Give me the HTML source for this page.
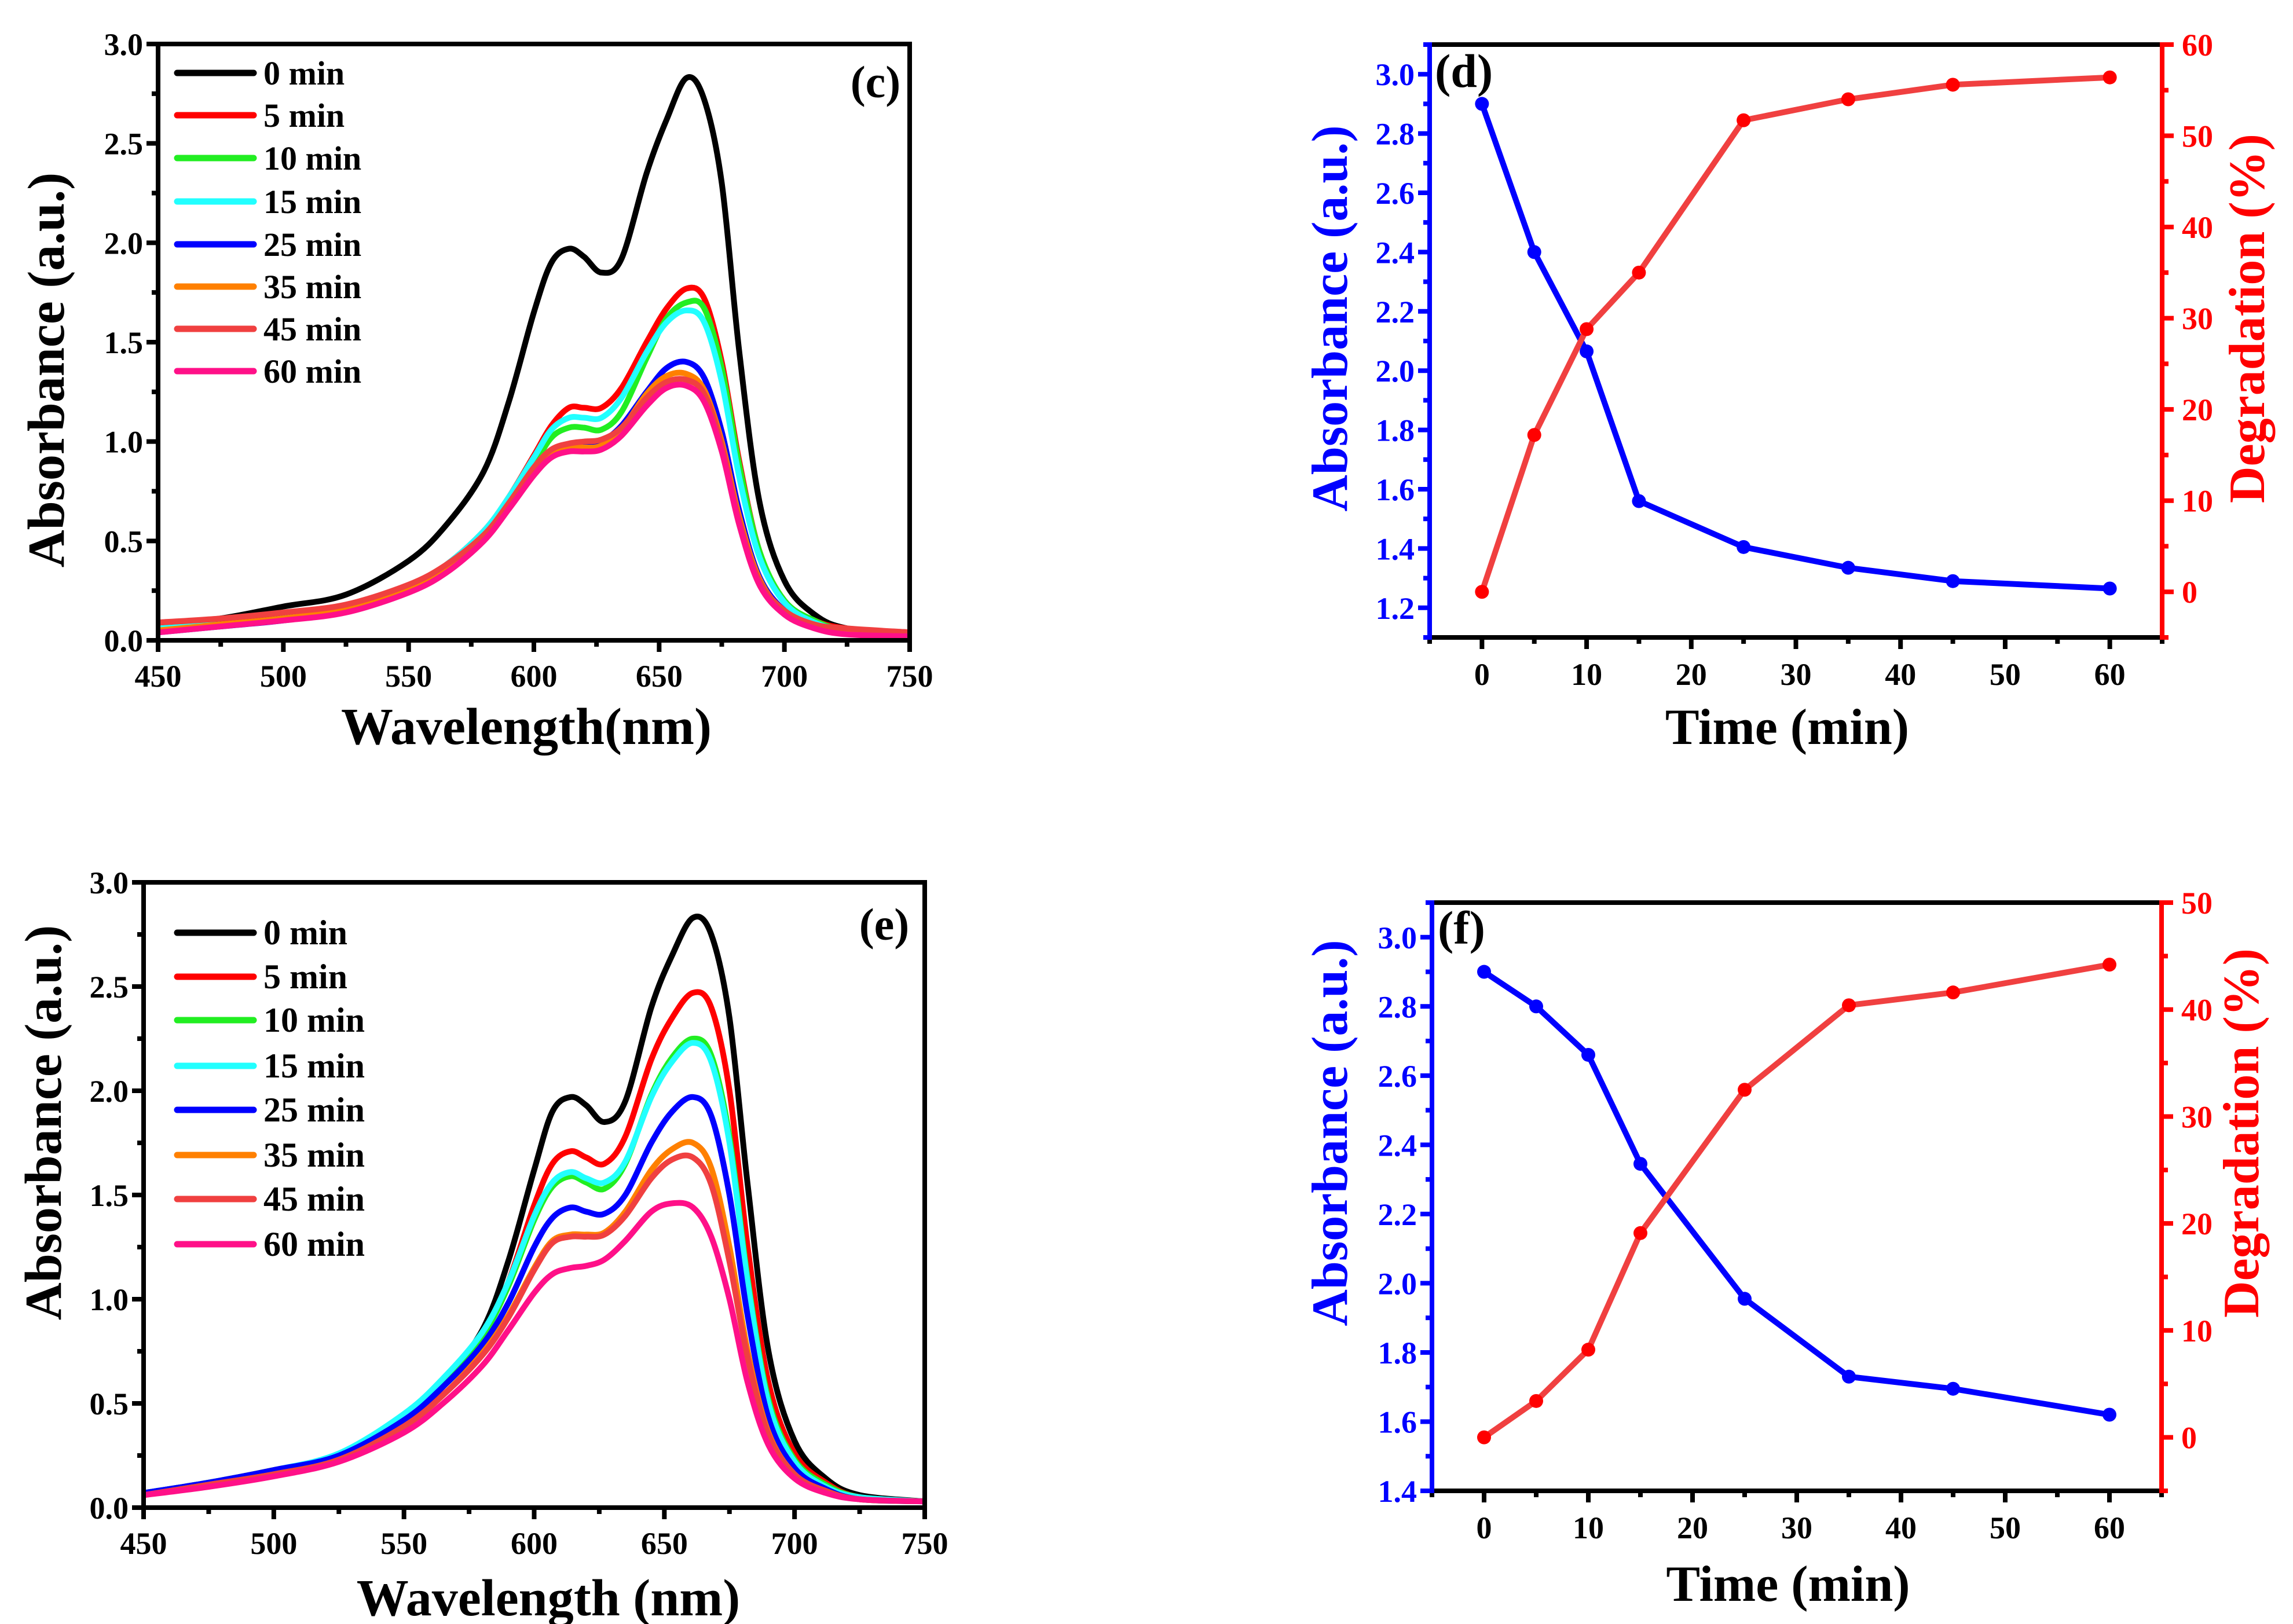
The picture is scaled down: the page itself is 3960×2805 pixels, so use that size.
<!DOCTYPE html>
<html><head><meta charset="utf-8"><style>
html,body{margin:0;padding:0;background:#fff;}
svg{display:block;font-family:"Liberation Serif","Times New Roman",serif;font-weight:bold;}
</style></head><body>
<svg id="fig" width="3960" height="2805" viewBox="0 0 3960 2805" xmlns="http://www.w3.org/2000/svg"></svg>
<script>
// ---- data ----
const wavelengths=[450,475,500,525,550,565,580,590,600,607,614,620,627,635,645,653,661,668,675,682,690,700,712,725,750];
const timeLabels=['0 min','5 min','10 min','15 min','25 min','35 min','45 min','60 min'];
const seriesColors=['#000000','#ff0000','#22ee22','#22ffff','#0000ff','#ff8000','#f04040','#ff1088'];
const c0=[.08,.11,.17,.23,.40,.58,.85,1.20,1.65,1.90,1.97,1.93,1.85,1.92,2.35,2.62,2.83,2.72,2.30,1.45,0.70,0.30,0.13,0.06,0.03];
const c5=[.07,.09,.12,.16,.27,.38,.55,.72,.93,1.08,1.17,1.17,1.17,1.27,1.50,1.67,1.77,1.72,1.40,0.90,0.45,0.20,0.10,0.06,0.04];
const c10=[.06,.08,.11,.15,.25,.36,.52,.68,.88,1.02,1.07,1.07,1.06,1.15,1.42,1.62,1.70,1.67,1.37,0.88,0.45,0.20,0.10,0.05,0.03];
const c15=[.06,.08,.11,.155,.27,.38,.55,.72,.92,1.06,1.12,1.12,1.12,1.22,1.45,1.60,1.66,1.60,1.30,0.82,0.42,0.19,0.09,0.05,0.03];
const c25=[.04,.07,.10,.15,.26,.36,.52,.68,.86,.95,.98,.99,1.00,1.08,1.25,1.37,1.40,1.32,1.05,0.65,0.32,0.15,0.07,0.04,0.02];
const c35=[.05,.08,.11,.155,.26,.36,.52,.68,.85,.94,.97,.97,.98,1.06,1.24,1.33,1.34,1.26,1.00,0.62,0.31,0.14,0.07,0.04,0.02];
const c45=[.09,.11,.14,.18,.28,.38,.53,.69,.87,.96,.99,1.00,1.01,1.07,1.22,1.30,1.31,1.24,0.98,0.60,0.30,0.15,0.08,0.06,0.04];
const c60=[.04,.07,.10,.14,.24,.34,.50,.66,.83,.92,.95,.95,.96,1.03,1.18,1.27,1.28,1.20,0.95,0.58,0.28,0.13,0.06,0.03,0.02];
const e0=[.07,.12,.18,.25,.42,.60,.85,1.18,1.62,1.90,1.97,1.93,1.85,1.95,2.40,2.65,2.83,2.75,2.35,1.55,0.75,0.32,0.14,0.06,0.03];
const e5=[.07,.12,.18,.25,.42,.58,.82,1.08,1.45,1.65,1.71,1.68,1.65,1.78,2.15,2.35,2.47,2.40,2.00,1.25,0.60,0.26,0.12,0.05,0.03];
const e10=[.07,.12,.18,.25,.43,.60,.82,1.06,1.38,1.54,1.59,1.56,1.53,1.65,1.98,2.16,2.25,2.17,1.78,1.10,0.52,0.23,0.11,0.05,0.03];
const e15=[.07,.12,.18,.26,.45,.62,.84,1.08,1.40,1.56,1.61,1.58,1.56,1.66,1.97,2.14,2.23,2.14,1.75,1.08,0.50,0.22,0.10,0.05,0.03];
const e25=[.07,.12,.18,.25,.42,.58,.78,.98,1.25,1.39,1.44,1.42,1.41,1.50,1.75,1.90,1.97,1.88,1.50,0.92,0.43,0.19,0.09,0.04,0.03];
const e35=[.06,.11,.16,.23,.39,.54,.74,.92,1.15,1.28,1.31,1.31,1.32,1.42,1.62,1.72,1.75,1.63,1.25,0.75,0.36,0.16,0.08,0.04,0.03];
const e45=[.06,.11,.16,.23,.39,.54,.73,.91,1.14,1.27,1.30,1.30,1.31,1.40,1.58,1.67,1.68,1.55,1.18,0.72,0.35,0.16,0.08,0.04,0.03];
const e60=[.06,.10,.15,.22,.36,.50,.68,.85,1.03,1.12,1.15,1.16,1.19,1.28,1.42,1.46,1.44,1.30,1.00,0.60,0.30,0.14,0.07,0.04,0.03];
const times=[0,5,10,15,25,35,45,60];
const dAbs=[2.90,2.40,2.065,1.56,1.405,1.335,1.29,1.265];
const dDeg=[0,17.2,28.8,35.0,51.7,54.0,55.6,56.4];
const fAbs=[2.90,2.80,2.66,2.345,1.955,1.73,1.695,1.62];
const fDeg=[0,3.4,8.2,19.1,32.5,40.4,41.6,44.2];
const specYTicks=['0.0','0.5','1.0','1.5','2.0','2.5','3.0'];
const specXTicks=['450','500','550','600','650','700','750'];
const timeXTicks=['0','10','20','30','40','50','60'];
const dAbsTicks=['1.2','1.4','1.6','1.8','2.0','2.2','2.4','2.6','2.8','3.0'];
const fAbsTicks=['1.4','1.6','1.8','2.0','2.2','2.4','2.6','2.8','3.0'];
const dDegTicks=['0','10','20','30','40','50','60'];
const fDegTicks=['0','10','20','30','40','50'];

const NS='http://www.w3.org/2000/svg';
const svg=document.getElementById('fig');
function mk(tag,attrs,parent){const e=document.createElementNS(NS,tag);for(const k in attrs)e.setAttribute(k,attrs[k]);(parent||svg).appendChild(e);return e;}
function txt(s,attrs,parent){const e=mk('text',attrs,parent);e.textContent=s;return e;}
function scale(d0,d1,r0,r1){return v=>r0+(v-d0)*(r1-r0)/(d1-d0);}
function smooth(pts){let d='M'+pts[0][0].toFixed(1)+','+pts[0][1].toFixed(1);
 for(let i=0;i<pts.length-1;i++){const p0=pts[Math.max(0,i-1)],p1=pts[i],p2=pts[i+1],p3=pts[Math.min(pts.length-1,i+2)];
  const c1=[p1[0]+(p2[0]-p0[0])/6,p1[1]+(p2[1]-p0[1])/6],c2=[p2[0]-(p3[0]-p1[0])/6,p2[1]-(p3[1]-p1[1])/6];
  d+='C'+c1[0].toFixed(1)+','+c1[1].toFixed(1)+' '+c2[0].toFixed(1)+','+c2[1].toFixed(1)+' '+p2[0].toFixed(1)+','+p2[1].toFixed(1);}
 return d;}

function spectrum(name,L,R,T,B,series,label,labelPos,legendRows,xTitle,xTitlePos,yTitlePos,fs){
 const g=mk('g',{});
 const x=scale(450,750,L,R),y=scale(0,3,B,T);
 for(let v=450;v<=750;v+=25){const major=(v%50===0);const ln=mk('line',{x1:x(v),x2:x(v),y1:B,y2:B+(major?20:11),stroke:'#000','stroke-width':8},g);}
 specXTicks.forEach(s=>{const t=txt(s,{x:x(+s),y:B+80,'font-size':54,'text-anchor':'middle'},g);});
 for(let i=0;i<=12;i++){const v=i*0.25;const major=i%2===0;const ln=mk('line',{x1:L-(major?20:11),x2:L,y1:y(v),y2:y(v),stroke:'#000','stroke-width':8},g);}
 specYTicks.forEach(s=>{const t=txt(s,{x:L-26,y:y(+s)+19,'font-size':54,'text-anchor':'end'},g);});
 series.forEach((arr,i)=>{const p=mk('path',{d:smooth(wavelengths.map((w,j)=>[x(w),y(arr[j])])),fill:'none',stroke:seriesColors[i],'stroke-width':10,'stroke-linejoin':'round'},g);
  });
 const fr=mk('rect',{x:L,y:T,width:R-L,height:B-T,fill:'none',stroke:'#000','stroke-width':8},g);
 const lg=mk('g',{},g);
 legendRows.forEach((ry,i)=>{const l=mk('line',{x1:306,x2:438,y1:ry,y2:ry,stroke:seriesColors[i],'stroke-width':11,'stroke-linecap':'round'},lg);
  const t=txt(timeLabels[i],{x:455,y:ry+20,'font-size':fs},lg);});
 const pl=txt(label,{x:labelPos[0],y:labelPos[1],'font-size':78,'text-anchor':'middle'},g);
 const xt=txt(xTitle,{x:xTitlePos[0],y:xTitlePos[1],'font-size':90,'text-anchor':'middle'},g);
 const yt=txt('Absorbance (a.u.)',{x:0,y:0,'font-size':90,'text-anchor':'middle',transform:'translate('+yTitlePos[0]+','+yTitlePos[1]+') rotate(-90)'},g);
}

function kinetics(name,L,R,T,B,absMin,absTicks,degMax,degTicks,absData,degData,label,labelPos,titleY,yTitleX,rTitleX,yTitleY){
 const g=mk('g',{});
 const x=scale(-5,65,L,R),ya=scale(absMin,3.1,B,T),yd=scale(-5,degMax,B,T);
 for(let v=-5;v<=65;v+=5){const major=(v%10===0);const ln=mk('line',{x1:x(v),x2:x(v),y1:B,y2:B+(major?20:11),stroke:'#000','stroke-width':8},g);}
 timeXTicks.forEach(s=>{const t=txt(s,{x:x(+s),y:B+82,'font-size':54,'text-anchor':'middle'},g);});
 for(let v=Math.round(absMin*10);v<=31;v++){const major=(v%2===0);const ln=mk('line',{x1:L-(major?20:11),x2:L,y1:ya(v/10),y2:ya(v/10),stroke:'#0000ff','stroke-width':8},g);}
 absTicks.forEach(s=>{const t=txt(s,{x:L-26,y:ya(+s)+19,'font-size':54,'text-anchor':'end',fill:'#0000ff'},g);});
 for(let v=-5;v<=degMax;v+=5){const major=(v%10===0);const ln=mk('line',{x1:R,x2:R+(major?20:11),y1:yd(v),y2:yd(v),stroke:'#ff0000','stroke-width':8},g);}
 degTicks.forEach(s=>{const t=txt(s,{x:R+34,y:yd(+s)+19,'font-size':54,'text-anchor':'start',fill:'#ff0000'},g);});
 const tp=mk('line',{x1:L,x2:R,y1:T,y2:T,stroke:'#000','stroke-width':8},g);
 const bt=mk('line',{x1:L,x2:R,y1:B,y2:B,stroke:'#000','stroke-width':8},g);
 const la=mk('line',{x1:L,x2:L,y1:T-4,y2:B+4,stroke:'#0000ff','stroke-width':8},g);
 const ra=mk('line',{x1:R,x2:R,y1:T-4,y2:B+4,stroke:'#ff0000','stroke-width':8},g);
 const ap=mk('polyline',{points:times.map((t,i)=>x(t)+','+ya(absData[i])).join(' '),fill:'none',stroke:'#0000ff','stroke-width':10,'stroke-linejoin':'round'},g);
 times.forEach((t,i)=>{const c=mk('circle',{cx:x(t),cy:ya(absData[i]),r:12,fill:'#0000ff'},g);});
 const dp=mk('polyline',{points:times.map((t,i)=>x(t)+','+yd(degData[i])).join(' '),fill:'none',stroke:'#f04040','stroke-width':10,'stroke-linejoin':'round'},g);
 times.forEach((t,i)=>{const c=mk('circle',{cx:x(t),cy:yd(degData[i]),r:12,fill:'#ff0000'},g);});
 const pl=txt(label,{x:labelPos[0],y:labelPos[1],'font-size':82,'text-anchor':'start'},g);
 const xt=txt('Time (min)',{x:(L+R)/2-15,y:titleY,'font-size':88,'text-anchor':'middle'},g);
 const yt=txt('Absorbance (a.u.)',{x:0,y:0,'font-size':88,'text-anchor':'middle',fill:'#0000ff',transform:'translate('+yTitleX+','+yTitleY+') rotate(-90)'},g);
 const rt=txt('Degradation (%)',{x:0,y:0,'font-size':88,'text-anchor':'middle',fill:'#ff0000',transform:'translate('+rTitleX+','+yTitleY+') rotate(-90)'},g);
}

spectrum('panel-c',273,1571,76,1106,[c0,c5,c10,c15,c25,c35,c45,c60],'(c)',[1512,168],[126,199,273,348,422,495,568,641],'Wavelength(nm)',[909,1285],[110,639],58);
spectrum('panel-e',248,1597,1524,2604,[e0,e5,e10,e15,e25,e35,e45,e60],'(e)',[1527,1623],[1611,1687,1762,1841,1917,1995,2071,2149],'Wavelength (nm)',[947,2790],[105,1939],60);
kinetics('panel-d',2469,3734,77,1101,1.1,dAbsTicks,60,dDegTicks,dAbs,dDeg,'(d)',[2478,150],1285,2326,3910,550);
kinetics('panel-f',2473,3733,1559,2575,1.4,fAbsTicks,50,fDegTicks,fAbs,fDeg,'(f)',[2483,1630],2765,2326,3900,1957);
</script>
</body></html>
